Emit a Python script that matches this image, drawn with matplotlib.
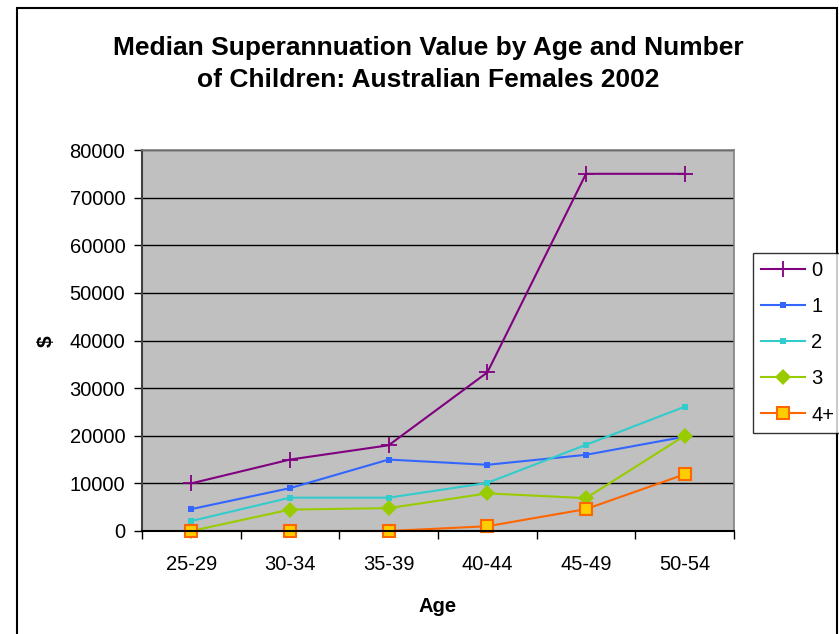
import matplotlib
matplotlib.use("Agg")
import matplotlib.pyplot as plt
from matplotlib.patches import Rectangle
import numpy as np

plt.rcParams['font.family'] = ['Liberation Sans', 'DejaVu Sans']

ages = ["25-29", "30-34", "35-39", "40-44", "45-49", "50-54"]
s0 = [10000, 15000, 18000, 33300, 75000, 75000]
s1 = [4600, 9000, 15000, 13900, 16000, 19800]
s2 = [2100, 7000, 7000, 10100, 18100, 26100]
s3 = [0, 4500, 4800, 7900, 6900, 20000]
s4 = [0, 0, 0, 1000, 4600, 11900]
labels = ["0", "1", "2", "3", "4+"]
title = "Median Superannuation Value by Age and Number\nof Children: Australian Females 2002"

W, H = 839, 634
fig = plt.figure(figsize=(W / 100, H / 100), dpi=100)
fig.patches.append(Rectangle((17 / W, -0.01), (837 - 17) / W, (H - 8) / H + 0.01,
                             transform=fig.transFigure, fill=False, edgecolor='black', lw=1.5))

ax = fig.add_axes([142 / W, (H - 531) / H, (734 - 142) / W, (531 - 150) / H])
ax.set_facecolor('#C0C0C0')
x = np.arange(len(ages))

ax.plot(x, s0, color='#800080', marker='+', ms=11, mew=1.3, lw=1.5, label=labels[0], clip_on=False)
ax.plot(x, s1, color='#3366FF', marker='s', ms=4, mew=0, lw=1.5, label=labels[1], clip_on=False)
ax.plot(x, s2, color='#33CCCC', marker='s', ms=5, mew=0, lw=1.5, label=labels[2], clip_on=False)
ax.plot(x, s3, color='#99CC00', marker='D', ms=8, mew=0, lw=1.5, label=labels[3], clip_on=False)
ax.plot(x, s4, color='#FF6600', marker='s', ms=8, mfc='#FFCC00', mec='#FF6600', mew=1.5,
        lw=1.5, label=labels[4], clip_on=False)

ax.set_xlim(-0.5, len(ages) - 0.5)
ax.set_ylim(0, 80000)
ax.set_yticks(np.arange(0, 80001, 10000))
ax.yaxis.grid(True, color='black', lw=1)
ax.set_axisbelow(True)
ax.set_xticks(np.arange(-0.5, len(ages), 1.0))
ax.set_xticklabels([])
ax.set_xticks(x, minor=True)
ax.set_xticklabels(ages, minor=True)
ax.tick_params(axis='x', which='minor', length=0, pad=17, labelsize=14.5)
ax.tick_params(axis='x', which='major', length=6, width=1, direction='out')
ax.tick_params(axis='y', length=6, width=1, direction='out', pad=6, labelsize=14.5)
ax.spines['left'].set_color('#404040')
ax.spines['left'].set_linewidth(1.5)
ax.spines['bottom'].set_color('black')
ax.spines['bottom'].set_linewidth(1.5)
for s in ['right', 'top']:
    ax.spines[s].set_color('#808080')
    ax.spines[s].set_linewidth(1.2)

ax.set_xlabel("Age", fontsize=14.5, fontweight='bold', labelpad=17)
fig.text(46 / W, 1 - 341 / H, "$", rotation=90, fontsize=15, fontweight='bold',
         ha='center', va='center')
fig.text(0.5 * (112 + 745) / W, 1 - 64 / H, title, fontsize=19, fontweight='bold',
         ha='center', va='center', linespacing=1.45)

leg = fig.legend(loc='upper left', bbox_to_anchor=(753 / W, 1 - 253 / H), fontsize=14.5,
                 frameon=True, fancybox=False, edgecolor='black', handlelength=2.2,
                 borderpad=0.4, labelspacing=0.85, handletextpad=0.3, borderaxespad=0)
leg.get_frame().set_linewidth(1.0)

fig.savefig("out.png", dpi=100)
